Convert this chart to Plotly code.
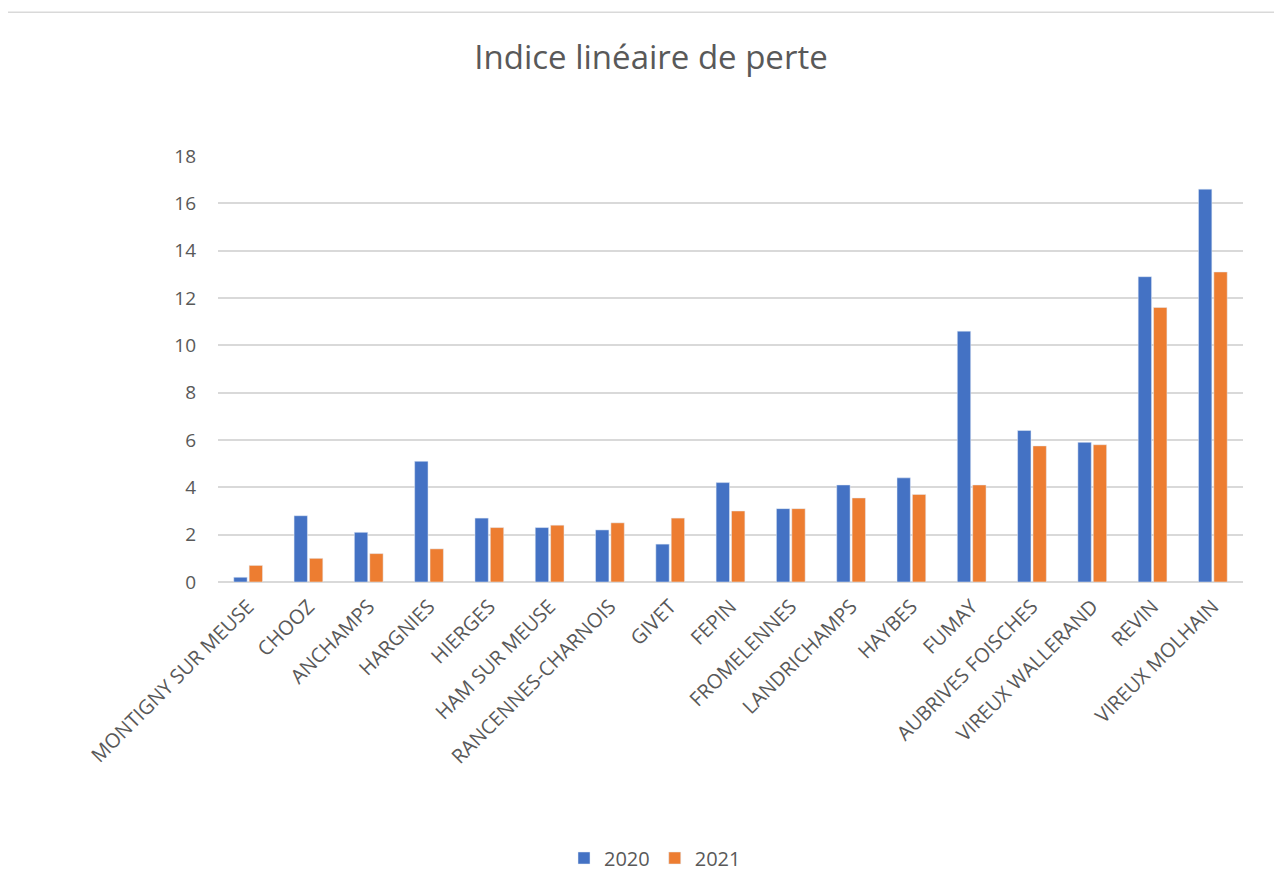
import plotly.graph_objects as go

# Communes, in the order shown on the chart
communes = [
    'MONTIGNY SUR MEUSE', 'CHOOZ', 'ANCHAMPS', 'HARGNIES', 'HIERGES',
    'HAM SUR MEUSE', 'RANCENNES-CHARNOIS', 'GIVET', 'FEPIN', 'FROMELENNES',
    'LANDRICHAMPS', 'HAYBES', 'FUMAY', 'AUBRIVES FOISCHES',
    'VIREUX WALLERAND', 'REVIN', 'VIREUX MOLHAIN',
]

# Indice linéaire de perte per year
ilp_2020 = [0.2, 2.8, 2.1, 5.1, 2.7, 2.3, 2.2, 1.6, 4.2, 3.1,
            4.1, 4.4, 10.6, 6.4, 5.9, 12.9, 16.6]
ilp_2021 = [0.7, 1.0, 1.2, 1.4, 2.3, 2.4, 2.5, 2.7, 3.0, 3.1,
            3.55, 3.7, 4.1, 5.75, 5.8, 11.6, 13.1]

y_ticks = [0, 2, 4, 6, 8, 10, 12, 14, 16, 18]

text_grey = '#595959'
font_family = '"Open Sans", Lato, sans-serif'

fig = go.Figure()
fig.add_trace(go.Bar(x=communes, y=ilp_2020, name='2020', marker_color='#4472C4'))
fig.add_trace(go.Bar(x=communes, y=ilp_2021, name='2021', marker_color='#ED7D31'))

# page has an 8px body margin, so the figure is a bit smaller than the window
W, H = 1274, 880
OFF = 8
# plot area spans roughly x 218..1243 and y 156..583 px of the window
L, R, T, B = 218 - OFF, 39, 156 - OFF, 305
pw, ph = W - L - R, H - T - B

fig.update_layout(
    width=W, height=H,
    margin=dict(l=L, r=R, t=T, b=B),
    paper_bgcolor='white', plot_bgcolor='white',
    font=dict(family=font_family, color=text_grey),
    title=dict(text='Indice linéaire de perte', x=(651 - OFF) / W, xanchor='center',
               xref='container',
               y=1 - (57 - OFF) / H, yanchor='middle', yref='container',
               font=dict(size=33, color=text_grey, family=font_family)),
    barmode='group', bargap=0.49, bargroupgap=0.13,
    showlegend=True,
    legend=dict(orientation='h', x=(655 - OFF - L) / pw, xanchor='center',
                y=(583 - 858) / ph, yanchor='middle',
                font=dict(size=20, color=text_grey),
                itemwidth=30, traceorder='normal'),
    xaxis=dict(tickangle=-45, tickfont=dict(size=20, color=text_grey),
               showgrid=False, showline=False, ticks='', ticklabelstandoff=8),
    yaxis=dict(range=[0, 18], tickvals=y_ticks,
               tickfont=dict(size=19, color=text_grey),
               gridcolor='#D9D9D9', gridwidth=1.5,
               zeroline=True, zerolinecolor='#D9D9D9', zerolinewidth=1.5,
               showline=False, ticks='', ticklabelstandoff=21),
)

# outer chart border, as in the source spreadsheet chart (runs off the bottom)
fig.add_shape(type='rect', xref='paper', yref='paper',
              x0=(3 - OFF - L) / pw, x1=(1281 - OFF - L) / pw,
              y0=(583 - 900) / ph, y1=(583 - 12) / ph,
              line=dict(color='#D9D9D9', width=1.5), fillcolor='rgba(0,0,0,0)',
              layer='below')

fig.write_html('out.html')
